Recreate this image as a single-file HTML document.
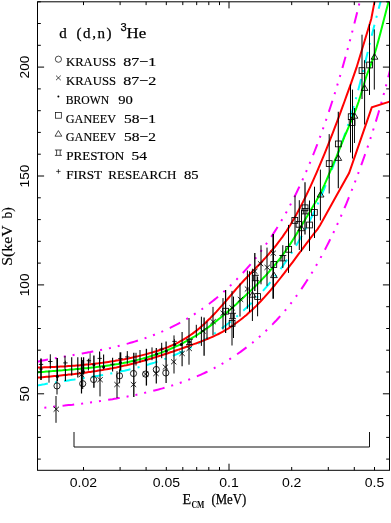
<!DOCTYPE html><html><head><meta charset="utf-8"><style>
html,body{margin:0;padding:0;background:#fff;}svg{display:block;will-change:transform}
text{font-family:"Liberation Serif",serif;fill:#000}
.sans{font-family:"Liberation Sans",sans-serif}
</style></head><body>
<svg width="391" height="523" viewBox="0 0 391 523">
<rect width="391" height="523" fill="#fff"/>
<clipPath id="c"><rect x="37.5" y="1.8" width="352.0" height="468.5"/></clipPath>
<g clip-path="url(#c)">
<polyline points="36.5,361.8 38.5,361.4 40.5,361.0 42.5,360.6 44.5,360.2 46.5,359.8 48.5,359.4 50.5,359.1 52.5,358.7 54.5,358.3 56.5,358.0 58.5,357.6 60.5,357.3 62.5,356.9 64.5,356.6 66.5,356.2 68.5,355.9 70.5,355.5 72.5,355.2 74.5,354.8 76.5,354.5 78.5,354.1 80.5,353.8 82.5,353.4 84.5,353.1 86.5,352.7 88.5,352.3 90.5,352.0 92.5,351.6 94.5,351.2 96.5,350.8 98.5,350.4 100.5,350.0 102.5,349.6 104.5,349.2 106.5,348.8 108.5,348.3 110.5,347.9 112.5,347.4 114.5,347.0 116.5,346.5 118.5,346.0 120.5,345.5 122.5,345.0 124.5,344.4 126.5,343.9 128.5,343.4 130.5,342.8 132.5,342.2 134.5,341.6 136.5,341.0 138.5,340.4 140.5,339.7 142.5,339.1 144.5,338.4 146.5,337.7 148.5,337.0 150.5,336.2 152.5,335.5 154.5,334.7 156.5,333.9 158.5,333.1 160.5,332.2 162.5,331.4 164.5,330.5 166.5,329.6 168.5,328.7 170.5,327.7 172.5,326.7 174.5,325.7 176.5,324.7 178.5,323.6 180.5,322.5 182.5,321.4 184.5,320.3 186.5,319.1 188.5,317.9 190.5,316.7 192.5,315.5 194.5,314.2 196.5,312.9 198.5,311.5 200.5,310.2 202.5,308.8 204.5,307.3 206.5,305.9 208.5,304.3 210.5,302.8 212.5,301.2 214.5,299.6 216.5,298.0 218.5,296.3 220.5,294.6 222.5,292.9 224.5,291.1 226.5,289.3 228.5,287.4 230.5,285.5 232.5,283.6 234.5,281.6 236.5,279.6 238.5,277.5 240.5,275.4 242.5,273.3 244.5,271.1 246.5,268.9 248.5,266.6 250.5,264.3 252.5,261.9 254.5,259.5 256.5,257.0 258.5,254.5 260.5,251.9 262.5,249.2 264.5,246.5 266.5,243.7 268.5,240.9 270.5,238.0 272.5,235.0 274.5,231.9 276.5,228.8 278.5,225.6 280.5,222.3 282.5,218.9 284.5,215.4 286.5,211.9 288.5,208.2 290.5,204.5 292.5,200.6 294.5,196.7 296.5,192.7 298.5,188.5 300.5,184.3 302.5,179.9 304.5,175.5 306.5,170.9 308.5,166.2 310.5,161.5 312.5,156.5 314.5,151.5 316.5,146.4 318.5,141.1 320.5,135.7 322.5,130.2 324.5,124.5 326.5,118.8 328.5,112.8 330.5,106.8 332.5,100.6 334.5,94.3 336.5,87.8 338.5,81.2 340.5,74.5 342.5,67.6 344.5,60.5 346.5,53.3 348.5,46.0 350.5,38.5 352.5,30.8 354.5,23.0 356.5,15.0 358.5,6.8 360.5,-1.5 362.5,-9.9 364.5,-18.6 366.5,-27.4 368.5,-36.4 370.5,-45.6 372.5,-54.9 374.5,-64.4 376.5,-74.1 378.5,-84.0 380.5,-94.1 382.5,-104.3 384.5,-114.8 386.5,-125.4 388.5,-136.2 390.5,-147.3" fill="none" stroke="#ff00ff" stroke-width="2" stroke-dasharray="11.7,7,2,7,2,7,2,7.3" stroke-dashoffset="0"/>
<polyline points="36.5,408.5 38.5,408.3 40.5,408.1 42.5,407.9 44.5,407.7 46.5,407.5 48.5,407.2 50.5,407.0 52.5,406.8 54.5,406.6 56.5,406.4 58.5,406.2 60.5,406.0 62.5,405.8 64.5,405.6 66.5,405.3 68.5,405.1 70.5,404.9 72.5,404.7 74.5,404.4 76.5,404.2 78.5,404.0 80.5,403.7 82.5,403.5 84.5,403.2 86.5,403.0 88.5,402.7 90.5,402.4 92.5,402.2 94.5,401.9 96.5,401.6 98.5,401.3 100.5,401.0 102.5,400.7 104.5,400.4 106.5,400.1 108.5,399.8 110.5,399.5 112.5,399.2 114.5,398.8 116.5,398.5 118.5,398.1 120.5,397.8 122.5,397.4 124.5,397.0 126.5,396.7 128.5,396.3 130.5,395.9 132.5,395.5 134.5,395.1 136.5,394.7 138.5,394.2 140.5,393.8 142.5,393.4 144.5,392.9 146.5,392.4 148.5,392.0 150.5,391.5 152.5,391.0 154.5,390.5 156.5,390.0 158.5,389.5 160.5,388.9 162.5,388.4 164.5,387.8 166.5,387.2 168.5,386.6 170.5,386.0 172.5,385.4 174.5,384.8 176.5,384.1 178.5,383.4 180.5,382.7 182.5,382.0 184.5,381.3 186.5,380.6 188.5,379.8 190.5,379.0 192.5,378.2 194.5,377.4 196.5,376.6 198.5,375.7 200.5,374.8 202.5,373.9 204.5,373.0 206.5,372.0 208.5,371.1 210.5,370.1 212.5,369.0 214.5,368.0 216.5,366.9 218.5,365.8 220.5,364.7 222.5,363.5 224.5,362.4 226.5,361.1 228.5,359.9 230.5,358.6 232.5,357.3 234.5,356.0 236.5,354.7 238.5,353.3 240.5,351.9 242.5,350.4 244.5,348.9 246.5,347.4 248.5,345.9 250.5,344.3 252.5,342.7 254.5,341.0 256.5,339.4 258.5,337.6 260.5,335.9 262.5,334.1 264.5,332.2 266.5,330.3 268.5,328.4 270.5,326.4 272.5,324.4 274.5,322.3 276.5,320.2 278.5,318.0 280.5,315.8 282.5,313.5 284.5,311.2 286.5,308.8 288.5,306.3 290.5,303.8 292.5,301.2 294.5,298.6 296.5,295.9 298.5,293.1 300.5,290.3 302.5,287.4 304.5,284.4 306.5,281.3 308.5,278.2 310.5,275.0 312.5,271.8 314.5,268.4 316.5,265.0 318.5,261.5 320.5,257.9 322.5,254.2 324.5,250.5 326.5,246.6 328.5,242.7 330.5,238.7 332.5,234.6 334.5,230.4 336.5,226.1 338.5,221.7 340.5,217.3 342.5,212.7 344.5,208.0 346.5,203.3 348.5,198.4 350.5,193.5 352.5,188.4 354.5,183.3 356.5,178.0 358.5,172.7 360.5,167.2 362.5,161.7 364.5,156.0 366.5,150.3 368.5,144.4 370.5,138.4 372.5,132.2 374.5,125.9 376.5,119.4 378.5,112.7 380.5,105.8 382.5,98.8 384.5,91.5 386.5,84.0 388.5,76.2 390.5,68.2" fill="none" stroke="#ff00ff" stroke-width="2" stroke-dasharray="11.7,7,2,7,2,7,2,7.3" stroke-dashoffset="19.8"/>
<polyline points="36.5,385.6 38.5,385.3 40.5,384.9 42.5,384.5 44.5,384.2 46.5,383.8 48.5,383.5 50.5,383.2 52.5,382.9 54.5,382.5 56.5,382.2 58.5,381.9 60.5,381.6 62.5,381.3 64.5,381.0 66.5,380.7 68.5,380.4 70.5,380.1 72.5,379.8 74.5,379.5 76.5,379.1 78.5,378.8 80.5,378.5 82.5,378.2 84.5,377.9 86.5,377.6 88.5,377.3 90.5,377.0 92.5,376.7 94.5,376.3 96.5,376.0 98.5,375.7 100.5,375.3 102.5,375.0 104.5,374.6 106.5,374.3 108.5,373.9 110.5,373.5 112.5,373.1 114.5,372.8 116.5,372.4 118.5,371.9 120.5,371.5 122.5,371.1 124.5,370.7 126.5,370.2 128.5,369.8 130.5,369.3 132.5,368.8 134.5,368.3 136.5,367.8 138.5,367.3 140.5,366.7 142.5,366.2 144.5,365.6 146.5,365.0 148.5,364.5 150.5,363.8 152.5,363.2 154.5,362.6 156.5,361.9 158.5,361.2 160.5,360.5 162.5,359.8 164.5,359.1 166.5,358.3 168.5,357.6 170.5,356.8 172.5,356.0 174.5,355.1 176.5,354.3 178.5,353.4 180.5,352.5 182.5,351.6 184.5,350.6 186.5,349.7 188.5,348.7 190.5,347.7 192.5,346.6 194.5,345.6 196.5,344.5 198.5,343.4 200.5,342.2 202.5,341.0 204.5,339.9 206.5,338.6 208.5,337.4 210.5,336.1 212.5,334.8 214.5,333.5 216.5,332.1 218.5,330.7 220.5,329.3 222.5,327.8 224.5,326.3 226.5,324.8 228.5,323.3 230.5,321.7 232.5,320.1 234.5,318.4 236.5,316.7 238.5,315.0 240.5,313.2 242.5,311.5 244.5,309.6 246.5,307.8 248.5,305.9 250.5,303.9 252.5,302.0 254.5,299.9 256.5,297.9 258.5,295.8 260.5,293.6 262.5,291.4 264.5,289.2 266.5,286.9 268.5,284.5 270.5,282.1 272.5,279.6 274.5,277.1 276.5,274.5 278.5,271.9 280.5,269.1 282.5,266.4 284.5,263.5 286.5,260.6 288.5,257.7 290.5,254.6 292.5,251.5 294.5,248.3 296.5,245.0 298.5,241.6 300.5,238.1 302.5,234.6 304.5,230.9 306.5,227.1 308.5,223.3 310.5,219.3 312.5,215.2 314.5,211.0 316.5,206.7 318.5,202.2 320.5,197.6 322.5,192.9 324.5,188.1 326.5,183.2 328.5,178.1 330.5,173.0 332.5,167.9 334.5,162.7 336.5,157.5 338.5,152.2 340.5,146.7 342.5,141.2 344.5,135.4 346.5,129.5 348.5,123.4 350.5,117.0 352.5,110.4 354.5,103.6 356.5,96.4 358.5,88.9 360.5,81.2 362.5,73.2 364.5,65.2 366.5,57.0 368.5,48.9 370.5,40.7 372.5,32.6 374.5,24.7 376.5,16.9 378.5,9.3 380.5,2.0 382.5,-4.9 384.5,-11.5 386.5,-17.6 388.5,-23.3 390.5,-28.4" fill="none" stroke="#00ffff" stroke-width="2" stroke-dasharray="11.5,7.25,2,7.25" stroke-dashoffset="0"/>
<polyline points="36.5,367.6 38.5,367.5 40.5,367.5 42.5,367.4 44.5,367.3 46.5,367.3 48.5,367.2 50.5,367.1 52.5,367.0 54.5,366.9 56.5,366.8 58.5,366.7 60.5,366.6 62.5,366.5 64.5,366.4 66.5,366.2 68.5,366.1 70.5,366.0 72.5,365.8 74.5,365.7 76.5,365.5 78.5,365.4 80.5,365.2 82.5,365.0 84.5,364.8 86.5,364.6 88.5,364.4 90.5,364.2 92.5,364.0 94.5,363.8 96.5,363.5 98.5,363.3 100.5,363.0 102.5,362.8 104.5,362.5 106.5,362.2 108.5,361.9 110.5,361.6 112.5,361.3 114.5,361.0 116.5,360.6 118.5,360.3 120.5,359.9 122.5,359.5 124.5,359.2 126.5,358.8 128.5,358.4 130.5,357.9 132.5,357.5 134.5,357.0 136.5,356.6 138.5,356.1 140.5,355.6 142.5,355.1 144.5,354.6 146.5,354.1 148.5,353.5 150.5,352.9 152.5,352.4 154.5,351.8 156.5,351.2 158.5,350.5 160.5,349.8 162.5,349.1 164.5,348.4 166.5,347.7 168.5,346.9 170.5,346.0 172.5,345.2 174.5,344.2 176.5,343.3 178.5,342.3 180.5,341.2 182.5,340.1 184.5,338.9 186.5,337.7 188.5,336.4 190.5,335.0 192.5,333.6 194.5,332.1 196.5,330.6 198.5,328.9 200.5,327.2 202.5,325.5 204.5,323.7 206.5,321.8 208.5,319.8 210.5,317.9 212.5,315.8 214.5,313.7 216.5,311.6 218.5,309.4 220.5,307.2 222.5,304.9 224.5,302.6 226.5,300.3 228.5,298.0 230.5,295.7 232.5,293.3 234.5,291.0 236.5,288.7 238.5,286.4 240.5,284.2 242.5,282.0 244.5,279.8 246.5,277.7 248.5,275.6 250.5,273.5 252.5,271.4 254.5,269.4 256.5,267.3 258.5,265.2 260.5,263.1 262.5,260.9 264.5,258.8 266.5,256.6 268.5,254.3 270.5,252.0 272.5,249.7 274.5,247.3 276.5,244.8 278.5,242.2 280.5,239.5 282.5,236.8 284.5,233.9 286.5,231.0 288.5,227.9 290.5,224.7 292.5,221.3 294.5,217.9 296.5,214.3 298.5,210.6 300.5,206.8 302.5,202.9 304.5,198.9 306.5,194.8 308.5,190.6 310.5,186.3 312.5,181.9 314.5,177.4 316.5,172.8 318.5,168.2 320.5,163.4 322.5,158.6 324.5,153.8 326.5,148.8 328.5,143.8 330.5,138.7 332.5,133.6 334.5,128.3 336.5,123.1 338.5,117.8 340.5,112.4 342.5,106.9 344.5,101.5 346.5,95.9 348.5,90.4 350.5,84.8 352.5,79.1 354.5,73.4 356.5,67.7 371.3,18.7 374.5,1.9 376.0,-6.0" fill="none" stroke="#ff0000" stroke-width="2" />
<polyline points="36.5,377.8 38.5,377.6 40.5,377.4 42.5,377.2 44.5,377.0 46.5,376.8 48.5,376.7 50.5,376.5 52.5,376.3 54.5,376.1 56.5,375.9 58.5,375.7 60.5,375.5 62.5,375.3 64.5,375.1 66.5,374.9 68.5,374.6 70.5,374.4 72.5,374.2 74.5,374.0 76.5,373.7 78.5,373.5 80.5,373.2 82.5,373.0 84.5,372.7 86.5,372.4 88.5,372.1 90.5,371.9 92.5,371.6 94.5,371.3 96.5,371.0 98.5,370.6 100.5,370.3 102.5,370.0 104.5,369.6 106.5,369.3 108.5,368.9 110.5,368.5 112.5,368.2 114.5,367.8 116.5,367.4 118.5,366.9 120.5,366.5 122.5,366.1 124.5,365.6 126.5,365.2 128.5,364.7 130.5,364.2 132.5,363.7 134.5,363.2 136.5,362.7 138.5,362.1 140.5,361.6 142.5,361.0 144.5,360.5 146.5,359.9 148.5,359.3 150.5,358.7 152.5,358.1 154.5,357.5 156.5,356.9 158.5,356.3 160.5,355.6 162.5,355.0 164.5,354.3 166.5,353.7 168.5,353.0 170.5,352.3 172.5,351.7 174.5,351.0 176.5,350.3 178.5,349.6 180.5,348.9 182.5,348.2 184.5,347.5 186.5,346.8 188.5,346.1 190.5,345.3 192.5,344.6 194.5,343.9 196.5,343.2 198.5,342.4 200.5,341.7 202.5,340.9 204.5,340.1 206.5,339.4 208.5,338.5 210.5,337.7 212.5,336.8 214.5,335.9 216.5,334.9 218.5,334.0 220.5,332.9 222.5,331.8 224.5,330.7 226.5,329.5 228.5,328.3 230.5,327.0 232.5,325.7 234.5,324.3 236.5,322.8 238.5,321.3 240.5,319.8 242.5,318.2 244.5,316.6 246.5,314.9 248.5,313.1 250.5,311.3 252.5,309.4 254.5,307.5 256.5,305.6 258.5,303.5 260.5,301.5 262.5,299.3 264.5,297.2 266.5,294.9 268.5,292.6 270.5,290.3 272.5,287.9 274.5,285.5 276.5,283.0 278.5,280.5 280.5,278.0 282.5,275.4 284.5,272.8 286.5,270.2 288.5,267.6 290.5,264.9 292.5,262.3 294.5,259.6 296.5,256.9 298.5,254.2 300.5,251.5 302.5,248.8 304.5,246.1 306.5,243.4 308.5,240.8 310.5,238.1 312.5,235.5 314.5,232.8 317.4,229.3 320.2,225.0 335.0,198.3 349.1,173.0 371.8,107.3 391.0,101.2" fill="none" stroke="#ff0000" stroke-width="2" />
<polyline points="36.5,372.5 38.5,372.3 40.5,372.1 42.5,371.9 44.5,371.8 46.5,371.6 48.5,371.4 50.5,371.2 52.5,371.1 54.5,370.9 56.5,370.7 58.5,370.6 60.5,370.4 62.5,370.3 64.5,370.1 66.5,369.9 68.5,369.8 70.5,369.6 72.5,369.4 74.5,369.3 76.5,369.1 78.5,368.9 80.5,368.7 82.5,368.5 84.5,368.3 86.5,368.2 88.5,367.9 90.5,367.7 92.5,367.5 94.5,367.3 96.5,367.1 98.5,366.8 100.5,366.6 102.5,366.3 104.5,366.1 106.5,365.8 108.5,365.5 110.5,365.2 112.5,364.9 114.5,364.6 116.5,364.2 118.5,363.9 120.5,363.5 122.5,363.2 124.5,362.8 126.5,362.4 128.5,362.0 130.5,361.5 132.5,361.1 134.5,360.6 136.5,360.1 138.5,359.6 140.5,359.1 142.5,358.6 144.5,358.0 146.5,357.5 148.5,356.9 150.5,356.3 152.5,355.6 154.5,355.0 156.5,354.3 158.5,353.6 160.5,352.9 162.5,352.1 164.5,351.4 166.5,350.6 168.5,349.7 170.5,348.9 172.5,348.0 174.5,347.1 176.5,346.2 178.5,345.3 180.5,344.3 182.5,343.3 184.5,342.2 186.5,341.1 188.5,340.0 190.5,338.9 192.5,337.7 194.5,336.5 196.5,335.3 198.5,334.0 200.5,332.7 202.5,331.3 204.5,329.9 206.5,328.5 208.5,327.1 210.5,325.6 212.5,324.1 214.5,322.5 216.5,320.9 218.5,319.3 220.5,317.7 222.5,316.0 224.5,314.4 226.5,312.7 228.5,310.9 230.5,309.2 232.5,307.4 234.5,305.7 236.5,303.9 238.5,302.0 240.5,300.2 242.5,298.4 244.5,296.5 246.5,294.6 248.5,292.8 250.5,290.9 252.5,288.9 254.5,287.0 256.5,285.0 258.5,283.0 260.5,281.0 262.5,278.9 264.5,276.8 266.5,274.6 268.5,272.4 270.5,270.1 272.5,267.8 274.5,265.4 276.5,262.9 278.5,260.4 280.5,257.8 282.5,255.1 284.5,252.4 286.5,249.5 288.5,246.6 290.5,243.6 292.5,240.5 294.5,237.3 296.5,234.1 298.5,230.8 300.5,227.5 302.5,224.1 304.5,220.7 306.5,217.3 308.5,213.9 310.5,210.6 312.5,207.2 314.5,203.8 316.5,200.4 318.5,196.8 320.5,193.0 322.5,189.0 324.5,184.7 326.5,180.1 328.5,175.3 330.5,170.5 332.5,165.8 334.5,161.2 336.5,156.6 338.5,151.7 340.5,146.7 342.5,141.7 344.5,136.7 346.5,132.0 348.5,127.3 350.5,122.7 352.5,118.0 354.5,113.0 356.5,107.7 358.5,102.0 360.5,95.8 362.5,89.1 364.5,82.2 366.5,75.9 368.5,70.5 370.5,65.6 372.5,60.2 374.5,54.2 376.5,47.5 378.5,40.3 380.5,32.8 382.5,25.1 384.5,17.3 386.5,9.5 388.5,2.0 390.5,-5.3" fill="none" stroke="#00ff00" stroke-width="2" />
</g>
<g stroke="#000" fill="none">
<line x1="41.0" y1="358.6" x2="41.0" y2="380.1" stroke-width="1.6"/>
<line x1="50.3" y1="354.3" x2="50.3" y2="368.7" stroke-width="1.0"/>
<line x1="49.0" y1="370.5" x2="49.0" y2="382.7" stroke-width="0.9"/>
<line x1="57.2" y1="357.9" x2="57.2" y2="380.9" stroke-width="1.6"/>
<line x1="57.0" y1="380.9" x2="57.0" y2="394.5" stroke-width="1.0"/>
<line x1="56.0" y1="396.0" x2="56.0" y2="422.8" stroke-width="1.0"/>
<line x1="65.0" y1="355.8" x2="65.0" y2="369.0" stroke-width="1.0"/>
<line x1="65.4" y1="369.0" x2="65.4" y2="380.9" stroke-width="1.1"/>
<line x1="71.7" y1="357.3" x2="71.7" y2="375.5" stroke-width="1.1"/>
<line x1="77.8" y1="357.3" x2="77.8" y2="377.4" stroke-width="1.1"/>
<line x1="81.5" y1="357.3" x2="81.5" y2="393.5" stroke-width="1.2"/>
<line x1="82.7" y1="360.0" x2="82.7" y2="389.0" stroke-width="1.0"/>
<line x1="83.6" y1="357.3" x2="83.6" y2="374.5" stroke-width="1.2"/>
<line x1="88.4" y1="359.0" x2="88.4" y2="370.5" stroke-width="1.0"/>
<line x1="90.1" y1="353.2" x2="90.1" y2="363.0" stroke-width="0.8"/>
<line x1="93.9" y1="355.5" x2="93.9" y2="387.8" stroke-width="1.4"/>
<line x1="99.6" y1="351.5" x2="99.6" y2="366.5" stroke-width="1.2"/>
<line x1="100.0" y1="366.5" x2="100.0" y2="396.4" stroke-width="1.0"/>
<line x1="103.6" y1="354.4" x2="103.6" y2="369.3" stroke-width="1.1"/>
<line x1="112.6" y1="357.8" x2="112.6" y2="371.5" stroke-width="1.1"/>
<line x1="120.4" y1="352.3" x2="120.4" y2="370.7" stroke-width="1.8"/>
<line x1="119.6" y1="369.5" x2="119.6" y2="383.3" stroke-width="1.0"/>
<line x1="117.0" y1="371.2" x2="117.0" y2="398.0" stroke-width="1.0"/>
<line x1="127.3" y1="351.1" x2="127.3" y2="363.8" stroke-width="1.0"/>
<line x1="133.8" y1="352.8" x2="133.8" y2="397.0" stroke-width="1.3"/>
<line x1="136.0" y1="352.8" x2="136.0" y2="365.5" stroke-width="1.0"/>
<line x1="140.0" y1="350.0" x2="140.0" y2="362.6" stroke-width="1.0"/>
<line x1="146.4" y1="348.8" x2="146.4" y2="385.6" stroke-width="1.3"/>
<line x1="152.0" y1="347.4" x2="152.0" y2="360.2" stroke-width="1.0"/>
<line x1="156.3" y1="348.1" x2="156.3" y2="383.6" stroke-width="1.2"/>
<line x1="161.7" y1="342.8" x2="161.7" y2="358.2" stroke-width="1.0"/>
<line x1="166.1" y1="341.4" x2="166.1" y2="382.9" stroke-width="1.2"/>
<line x1="174.0" y1="335.4" x2="174.0" y2="373.5" stroke-width="1.0"/>
<line x1="182.1" y1="332.0" x2="182.1" y2="366.2" stroke-width="1.1"/>
<line x1="189.0" y1="318.0" x2="189.0" y2="364.7" stroke-width="1.0"/>
<line x1="196.3" y1="324.8" x2="196.3" y2="337.8" stroke-width="1.0"/>
<line x1="201.4" y1="316.7" x2="201.4" y2="345.9" stroke-width="1.0"/>
<line x1="204.1" y1="317.5" x2="204.1" y2="355.7" stroke-width="1.3"/>
<line x1="207.0" y1="321.6" x2="207.0" y2="339.4" stroke-width="1.0"/>
<line x1="213.0" y1="306.9" x2="213.0" y2="335.4" stroke-width="1.0"/>
<line x1="223.0" y1="298.1" x2="223.0" y2="329.5" stroke-width="1.0"/>
<line x1="225.6" y1="290.0" x2="225.6" y2="333.0" stroke-width="1.2"/>
<line x1="232.0" y1="290.9" x2="232.0" y2="345.5" stroke-width="1.0"/>
<line x1="233.5" y1="296.6" x2="233.5" y2="338.0" stroke-width="1.0"/>
<line x1="240.0" y1="283.5" x2="240.0" y2="316.6" stroke-width="1.0"/>
<line x1="247.4" y1="270.5" x2="247.4" y2="308.7" stroke-width="1.0"/>
<line x1="249.5" y1="271.3" x2="249.5" y2="312.0" stroke-width="1.0"/>
<line x1="252.4" y1="269.3" x2="252.4" y2="321.0" stroke-width="1.0"/>
<line x1="254.8" y1="253.0" x2="254.8" y2="291.0" stroke-width="1.3"/>
<line x1="257.6" y1="277.0" x2="257.6" y2="316.3" stroke-width="1.0"/>
<line x1="261.0" y1="245.3" x2="261.0" y2="284.3" stroke-width="1.0"/>
<line x1="267.0" y1="247.6" x2="267.0" y2="285.8" stroke-width="1.0"/>
<line x1="273.2" y1="234.0" x2="273.2" y2="298.8" stroke-width="1.6"/>
<line x1="282.8" y1="245.2" x2="282.8" y2="268.0" stroke-width="1.0"/>
<line x1="288.5" y1="224.9" x2="288.5" y2="272.9" stroke-width="1.0"/>
<line x1="295.0" y1="195.5" x2="295.0" y2="244.6" stroke-width="1.0"/>
<line x1="299.3" y1="200.2" x2="299.3" y2="250.0" stroke-width="1.0"/>
<line x1="301.5" y1="209.6" x2="301.5" y2="251.5" stroke-width="1.0"/>
<line x1="305.0" y1="182.2" x2="305.0" y2="234.5" stroke-width="1.2"/>
<line x1="309.5" y1="200.5" x2="309.5" y2="251.0" stroke-width="1.0"/>
<line x1="314.5" y1="186.7" x2="314.5" y2="238.0" stroke-width="1.0"/>
<line x1="320.4" y1="169.6" x2="320.4" y2="220.4" stroke-width="1.0"/>
<line x1="329.2" y1="134.1" x2="329.2" y2="193.5" stroke-width="1.0"/>
<line x1="338.3" y1="111.7" x2="338.3" y2="188.3" stroke-width="1.1"/>
<line x1="350.5" y1="84.3" x2="350.5" y2="152.5" stroke-width="1.0"/>
<line x1="352.5" y1="89.6" x2="352.5" y2="158.5" stroke-width="1.0"/>
<line x1="354.5" y1="108.0" x2="354.5" y2="143.0" stroke-width="0.9"/>
<line x1="362.0" y1="34.7" x2="362.0" y2="99.0" stroke-width="1.0"/>
<line x1="364.6" y1="60.2" x2="364.6" y2="124.5" stroke-width="1.0"/>
<line x1="369.5" y1="24.0" x2="369.5" y2="95.0" stroke-width="1.0"/>
<line x1="374.3" y1="29.4" x2="374.3" y2="89.6" stroke-width="1.0"/>
</g>
<g stroke="#000" stroke-width="0.85" fill="none">
<path d="M38.8 364.4h4.4m-2.2 -2.2v4.4"/>
<path d="M48.1 361.5h4.4m-2.2 -2.2v4.4"/>
<circle cx="57.3" cy="376.5" r="1.5" fill="#000" stroke="none"/>
<circle cx="41.0" cy="369.0" r="1.5" fill="#000" stroke="none"/>
<circle cx="57.0" cy="385.9" r="3.1"/>
<path d="M53.6 406.7l5.4 5m0 -5l-5.4 5"/>
<path d="M63.2 362.9h4.4m-2.2 -2.2v4.4"/>
<path d="M78.8 372.0l5.4 5m0 -5l-5.4 5"/>
<circle cx="82.7" cy="383.7" r="3.1"/>
<circle cx="83.2" cy="371.6" r="1.5" fill="#000" stroke="none"/>
<path d="M86.7 360.7h4.4m-2.2 -2.2v4.4"/>
<circle cx="93.6" cy="379.5" r="3.1"/>
<circle cx="93.9" cy="364.7" r="1.5" fill="#000" stroke="none"/>
<path d="M97.5 358.4h4.4m-2.2 -2.2v4.4"/>
<path d="M97.4 377.2l5.4 5m0 -5l-5.4 5"/>
<circle cx="103.6" cy="367.0" r="1.5" fill="#000" stroke="none"/>
<path d="M110.3 364.2h4.4m-2.2 -2.2v4.4"/>
<circle cx="120.4" cy="362.6" r="1.5" fill="#000" stroke="none"/>
<path d="M118.2 358.6h4.4m-2.2 -2.2v4.4"/>
<circle cx="119.5" cy="375.9" r="3.1"/>
<path d="M114.3 382.0l5.4 5m0 -5l-5.4 5"/>
<path d="M125.1 356.9h4.4m-2.2 -2.2v4.4"/>
<circle cx="133.5" cy="373.5" r="3.1"/>
<path d="M130.8 382.0l5.4 5m0 -5l-5.4 5"/>
<circle cx="134.2" cy="360.9" r="1.5" fill="#000" stroke="none"/>
<circle cx="145.6" cy="374.1" r="3.1"/>
<path d="M142.9 371.6l5.4 5m0 -5l-5.4 5"/>
<circle cx="146.0" cy="359.7" r="1.5" fill="#000" stroke="none"/>
<circle cx="156.6" cy="354.1" r="1.5" fill="#000" stroke="none"/>
<circle cx="156.3" cy="369.5" r="3.1"/>
<path d="M153.3 371.0l5.4 5m0 -5l-5.4 5"/>
<path d="M159.5 349.0h4.4m-2.2 -2.2v4.4"/>
<circle cx="166.4" cy="350.9" r="1.5" fill="#000" stroke="none"/>
<path d="M162.7 364.6l5.4 5m0 -5l-5.4 5"/>
<circle cx="165.8" cy="372.9" r="3.1"/>
<path d="M172.3 341.4h4.4m-2.2 -2.2v4.4"/>
<circle cx="174.7" cy="344.5" r="1.5" fill="#000" stroke="none"/>
<path d="M171.0 359.3l5.4 5m0 -5l-5.4 5"/>
<circle cx="181.3" cy="344.5" r="1.5" fill="#000" stroke="none"/>
<path d="M179.4 351.0l5.4 5m0 -5l-5.4 5"/>
<path d="M186.0 339.2h7m-7 5.4h7m-5.3 -5.4v5.4m3.6 -5.4v5.4"/>
<circle cx="189.5" cy="341.9" r="1.5" fill="#000" stroke="none"/>
<path d="M186.5 346.0l5.4 5m0 -5l-5.4 5"/>
<path d="M200.3 328.5l5.4 5m0 -5l-5.4 5"/>
<path d="M210.4 319.1l5.4 5m0 -5l-5.4 5"/>
<path d="M220.5 310.7l5.4 5m0 -5l-5.4 5"/>
<rect x="222.7" y="308.3" width="5.8" height="5.8"/>
<path d="M229.4 305.4l5.4 5m0 -5l-5.4 5"/>
<path d="M229.0 313.3h7m-7 5.4h7m-5.3 -5.4v5.4m3.6 -5.4v5.4"/>
<rect x="229.2" y="320.5" width="5.8" height="5.8"/>
<path d="M237.8 296.9l5.4 5m0 -5l-5.4 5"/>
<path d="M244.8 286.5l5.4 5m0 -5l-5.4 5"/>
<path d="M252.4 291.6l3.4 5.6h-6.8z"/>
<path d="M252.1 268.8l5.4 5m0 -5l-5.4 5"/>
<path d="M251.9 275.3h7m-7 5.4h7m-5.3 -5.4v5.4m3.6 -5.4v5.4"/>
<rect x="254.7" y="293.6" width="5.8" height="5.8"/>
<path d="M257.9 261.2l5.4 5m0 -5l-5.4 5"/>
<path d="M264.5 264.9l5.4 5m0 -5l-5.4 5"/>
<path d="M270.5 250.7l5.4 5m0 -5l-5.4 5"/>
<rect x="270.9" y="261.6" width="5.8" height="5.8"/>
<path d="M273.9 272.0l3.4 5.6h-6.8z"/>
<path d="M279.3 255.5h7m-7 5.4h7m-5.3 -5.4v5.4m3.6 -5.4v5.4"/>
<rect x="285.8" y="246.4" width="5.8" height="5.8"/>
<rect x="291.9" y="217.5" width="5.8" height="5.8"/>
<rect x="296.1" y="221.4" width="5.8" height="5.8"/>
<path d="M301.3 225.1l3.4 5.6h-6.8z"/>
<path d="M301.6 208.5h7m-7 5.4h7m-5.3 -5.4v5.4m3.6 -5.4v5.4"/>
<rect x="302.2" y="204.9" width="5.8" height="5.8"/>
<rect x="306.6" y="222.1" width="5.8" height="5.8"/>
<rect x="311.5" y="209.5" width="5.8" height="5.8"/>
<path d="M320.6 191.4l3.4 5.6h-6.8z"/>
<rect x="326.3" y="160.7" width="5.8" height="5.8"/>
<rect x="335.4" y="141.0" width="5.8" height="5.8"/>
<path d="M338.3 154.8l3.4 5.6h-6.8z"/>
<rect x="348.3" y="113.8" width="5.8" height="5.8"/>
<rect x="349.2" y="119.6" width="5.8" height="5.8"/>
<path d="M354.5 112.6l3.4 5.6h-6.8z"/>
<rect x="359.1" y="67.7" width="5.8" height="5.8"/>
<path d="M364.6 84.8l3.4 5.6h-6.8z"/>
<rect x="366.7" y="62.1" width="5.8" height="5.8"/>
<path d="M374.5 53.6l3.4 5.6h-6.8z"/>
</g>
<path d="M74 432V447H369.5V432" fill="none" stroke="#111" stroke-width="1"/>
<g stroke="#000" stroke-width="1" fill="none">
<rect x="37.5" y="1.8" width="352.0" height="468.5"/>
<path d="M37.5 459.1h3.3M389.5 459.1h-3.3M37.5 437.4h3.3M389.5 437.4h-3.3M37.5 415.6h3.3M389.5 415.6h-3.3M37.5 393.8h6.6M389.5 393.8h-6.6M37.5 372.0h3.3M389.5 372.0h-3.3M37.5 350.2h3.3M389.5 350.2h-3.3M37.5 328.5h3.3M389.5 328.5h-3.3M37.5 306.7h3.3M389.5 306.7h-3.3M37.5 284.9h6.6M389.5 284.9h-6.6M37.5 263.1h3.3M389.5 263.1h-3.3M37.5 241.3h3.3M389.5 241.3h-3.3M37.5 219.6h3.3M389.5 219.6h-3.3M37.5 197.8h3.3M389.5 197.8h-3.3M37.5 176.0h6.6M389.5 176.0h-6.6M37.5 154.2h3.3M389.5 154.2h-3.3M37.5 132.4h3.3M389.5 132.4h-3.3M37.5 110.7h3.3M389.5 110.7h-3.3M37.5 88.9h3.3M389.5 88.9h-3.3M37.5 67.1h6.6M389.5 67.1h-6.6M37.5 45.3h3.3M389.5 45.3h-3.3M37.5 23.5h3.3M389.5 23.5h-3.3M37.5 1.8h3.3M389.5 1.8h-3.3M83.5 470.3v-3.3M83.5 1.8v3.3M120.1 470.3v-3.3M120.1 1.8v3.3M146.1 470.3v-3.3M146.1 1.8v3.3M166.3 470.3v-3.3M166.3 1.8v3.3M182.8 470.3v-3.3M182.8 1.8v3.3M196.7 470.3v-3.3M196.7 1.8v3.3M208.8 470.3v-3.3M208.8 1.8v3.3M219.5 470.3v-3.3M219.5 1.8v3.3M229.0 470.3v-6.6M229.0 1.8v6.6M291.7 470.3v-3.3M291.7 1.8v3.3M328.3 470.3v-3.3M328.3 1.8v3.3M354.3 470.3v-3.3M354.3 1.8v3.3M374.5 470.3v-3.3M374.5 1.8v3.3"/>
</g>
<g class="sans" font-size="13">
<text class="sans" x="69.8" y="486.7" textLength="27.3" lengthAdjust="spacingAndGlyphs">0.02</text>
<text class="sans" x="152.7" y="486.7" textLength="27.3" lengthAdjust="spacingAndGlyphs">0.05</text>
<text class="sans" x="219.2" y="486.7" textLength="19.5" lengthAdjust="spacingAndGlyphs">0.1</text>
<text class="sans" x="281.9" y="486.7" textLength="19.5" lengthAdjust="spacingAndGlyphs">0.2</text>
<text class="sans" x="364.8" y="486.7" textLength="19.5" lengthAdjust="spacingAndGlyphs">0.5</text>
<text class="sans" transform="translate(28.9,401.4) rotate(-90)" textLength="15.2" lengthAdjust="spacingAndGlyphs">50</text>
<text class="sans" transform="translate(28.9,296.3) rotate(-90)" textLength="22.9" lengthAdjust="spacingAndGlyphs">100</text>
<text class="sans" transform="translate(28.9,187.4) rotate(-90)" textLength="22.9" lengthAdjust="spacingAndGlyphs">150</text>
<text class="sans" transform="translate(28.9,78.5) rotate(-90)" textLength="22.9" lengthAdjust="spacingAndGlyphs">200</text>
</g>
<g font-size="14.5" stroke="#000" stroke-width="0.15"><text transform="translate(12.1,265.7) rotate(-90)" textLength="40.4" lengthAdjust="spacingAndGlyphs">S(keV</text><text transform="translate(12.1,218.4) rotate(-90)" textLength="11.2" lengthAdjust="spacingAndGlyphs">b)</text></g>
<g stroke="#000" stroke-width="0.25">
<text x="182.6" y="504" font-size="14" textLength="8.6" lengthAdjust="spacingAndGlyphs">E</text>
<text x="191.4" y="508" font-size="9.5" font-weight="bold" stroke="none" textLength="13" lengthAdjust="spacingAndGlyphs">CM</text>
<text x="211.4" y="504" font-size="14" textLength="34.8" lengthAdjust="spacingAndGlyphs">(MeV)</text>
</g>
<g font-size="15" stroke="#000" stroke-width="0.25">
<text x="59.2" y="38.3">d</text><text x="76.5" y="38.3" textLength="35" lengthAdjust="spacing">(d,n)</text>
<text x="126.6" y="38.3" textLength="19.6" lengthAdjust="spacingAndGlyphs">He</text>
<text class="sans" x="120.6" y="31.4" font-size="10.5" textLength="6.2" lengthAdjust="spacingAndGlyphs">3</text>
</g>
<g font-size="13.5" stroke="#000" stroke-width="0.18">
<text x="66.0" y="66.4" textLength="50.0" lengthAdjust="spacingAndGlyphs">KRAUSS</text>
<text x="123.2" y="66.4" textLength="33.2" lengthAdjust="spacingAndGlyphs">87−1</text>
<text x="66.0" y="85.1" textLength="50.0" lengthAdjust="spacingAndGlyphs">KRAUSS</text>
<text x="123.2" y="85.1" textLength="33.2" lengthAdjust="spacingAndGlyphs">87−2</text>
<text x="65.8" y="103.8" textLength="43.4" lengthAdjust="spacingAndGlyphs">BROWN</text>
<text x="118.3" y="103.8" textLength="14.6" lengthAdjust="spacingAndGlyphs">90</text>
<text x="65.8" y="122.5" textLength="50.2" lengthAdjust="spacingAndGlyphs">GANEEV</text>
<text x="123.9" y="122.5" textLength="32.0" lengthAdjust="spacingAndGlyphs">58−1</text>
<text x="65.8" y="141.2" textLength="50.2" lengthAdjust="spacingAndGlyphs">GANEEV</text>
<text x="123.9" y="141.2" textLength="32.0" lengthAdjust="spacingAndGlyphs">58−2</text>
<text x="66.2" y="159.9" textLength="58.0" lengthAdjust="spacingAndGlyphs">PRESTON</text>
<text x="131.6" y="159.9" textLength="15.4" lengthAdjust="spacingAndGlyphs">54</text>
<text x="66.2" y="178.6" textLength="36.0" lengthAdjust="spacingAndGlyphs">FIRST</text>
<text x="108.3" y="178.6" textLength="68.0" lengthAdjust="spacingAndGlyphs">RESEARCH</text>
<text x="184.0" y="178.6" textLength="14.6" lengthAdjust="spacingAndGlyphs">85</text>
</g>
<g stroke="#000" stroke-width="0.7" fill="none">
<circle cx="58.4" cy="59.2" r="3.1"/>
<path d="M56.0 75.6l4.8 4.6m0 -4.6l-4.8 4.6"/>
<circle cx="58.4" cy="96.6" r="1.0" fill="#000" stroke="none"/>
<rect x="55.5" y="112.4" width="5.8" height="5.8"/>
<path d="M58.4 130.6l3.4 5.6h-6.8z"/>
<path d="M54.9 150.0h7m-7 5.4h7m-5.3 -5.4v5.4m3.6 -5.4v5.4"/>
<path d="M56.2 171.4h4.4m-2.2 -2.2v4.4"/>
</g>
</svg></body></html>
